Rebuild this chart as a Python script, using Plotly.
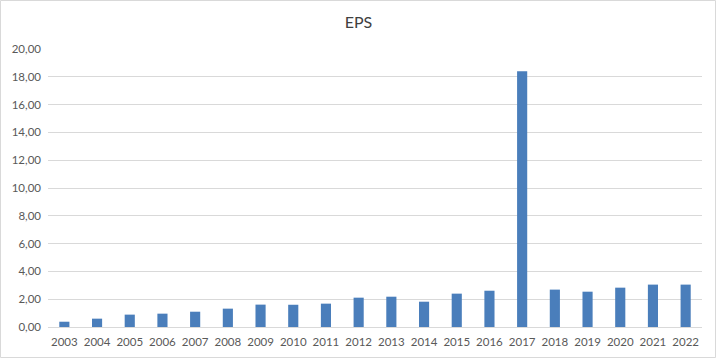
import plotly.graph_objects as go

years = [str(y) for y in range(2003, 2023)]
eps = [0.38, 0.60, 0.89, 0.96, 1.10, 1.32, 1.61, 1.60, 1.68, 2.11,
       2.18, 1.82, 2.40, 2.61, 18.40, 2.69, 2.54, 2.83, 3.05, 3.05]
y_ticks = [0, 2, 4, 6, 8, 10, 12, 14, 16, 18, 20]

W, H = 717, 359
ml, mr, mt, mb = 48, 15, 49, 32

fig = go.Figure(go.Bar(x=years, y=eps, marker_color="#4A7EBB", marker_line_width=0))

fig.update_layout(
    width=W, height=H,
    margin=dict(l=ml, r=mr, t=mt, b=mb),
    paper_bgcolor="white", plot_bgcolor="white",
    separators=",.",
    font=dict(family="Lato, Open Sans, sans-serif", size=11.5, color="#595959"),
    title=dict(text="EPS", x=0.5, xanchor="center",
               y=1 - 22 / H, yanchor="middle",
               font=dict(size=16, color="#404040")),
    bargap=0.69,
    showlegend=False,
)
fig.update_xaxes(type="category", showgrid=False, showline=True, linecolor="#D9D9D9",
                 ticks="", ticklabelstandoff=4)
fig.update_yaxes(range=[0, 20], tickvals=y_ticks, tickformat=".2f", showgrid=True,
                 gridcolor="#D9D9D9", zeroline=False, showline=False, ticks="",
                 ticklabelstandoff=6)

pw, ph = W - ml - mr, H - mt - mb
fig.add_shape(type="rect", xref="paper", yref="paper",
              x0=-(ml - 0.5) / pw, x1=1 + (mr - 1.5) / pw,
              y0=-(mb - 1.5) / ph, y1=1 + (mt - 0.5) / ph,
              line=dict(color="#D9D9D9", width=1), fillcolor="rgba(0,0,0,0)", layer="below")

fig.write_html("out.html", config={"displayModeBar": False},
               post_script="document.body.style.margin='0';document.body.style.overflow='hidden';")
